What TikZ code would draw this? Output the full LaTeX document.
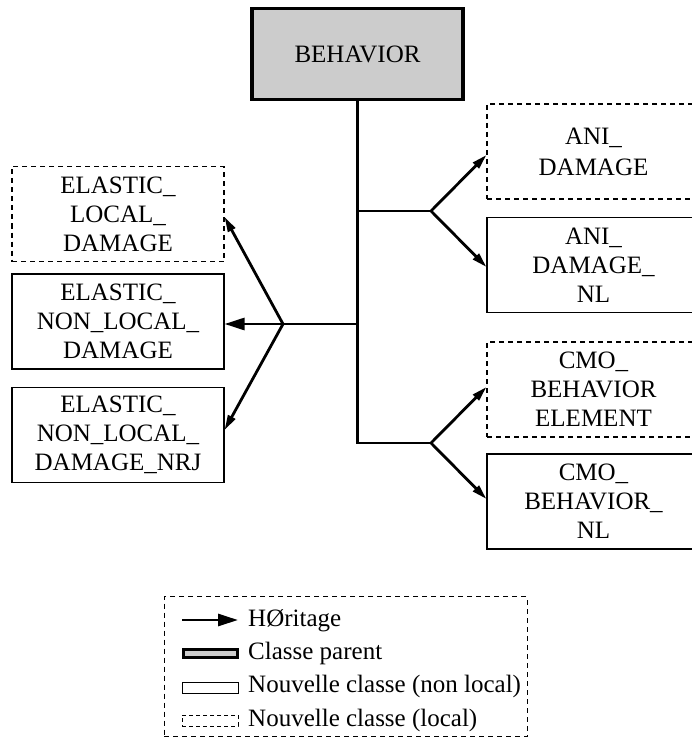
\documentclass[tikz,border=0pt]{standalone}
\usepackage{fontspec}
\setmainfont{Liberation Serif}
\usetikzlibrary{arrows.meta}
\definecolor{parentgray}{gray}{0.8}
\begin{document}
\begin{tikzpicture}[x=1pt,y=-1pt,
  box/.style={draw, line width=1.1pt, minimum width=212pt, minimum height=95pt,
    align=center, inner sep=0pt, font=\fontsize{25}{29}\selectfont},
  localbox/.style={box, dash pattern=on 5pt off 4pt},
  conn/.style={line width=2.8pt, line join=miter},
  inh/.style={conn, -{Triangle[length=15pt,width=8pt]}},
  inhbig/.style={conn, -{Triangle[length=20pt,width=12pt]}},
  legtext/.style={anchor=base west, inner sep=0pt, font=\fontsize{25}{30}\selectfont},
]
\useasboundingbox (0,0) rectangle (691,738);

% parent class
\node[box, fill=parentgray, line width=3.3pt, minimum width=211pt, minimum height=91pt]
  (behavior) at (357.5,54) {BEHAVIOR};

% left classes
\node[localbox] (eld) at (118,214) {ELASTIC\_\\LOCAL\_\\DAMAGE};
\node[box] (enl) at (118,321.5) {ELASTIC\_\\NON\_LOCAL\_\\DAMAGE};
\node[box] (enr) at (118,435) {ELASTIC\_\\NON\_LOCAL\_\\DAMAGE\_NRJ};

% right classes
\node[localbox, minimum width=213pt, font=\fontsize{25}{31}\selectfont] (ani) at (593.5,151.5) {ANI\_\\DAMAGE};
\node[box, minimum width=213pt] (aninl) at (593.5,265) {ANI\_\\DAMAGE\_\\NL};
\node[localbox, minimum width=213pt] (cmoel) at (593.5,389.5) {CMO\_\\BEHAVIOR\\ELEMENT};
\node[box, minimum width=213pt] (cmonl) at (593.5,501.5) {CMO\_\\BEHAVIOR\_\\NL};

% junctions
\coordinate (jR1) at (431,211);
\coordinate (jR2) at (431,443);
\coordinate (jL) at (283,324);

% trunk and branches
\draw[conn] (behavior.south) |- (jR2);
\draw[conn] (behavior.south |- jR1) -- (jR1);
\draw[conn] (behavior.south |- jL) -- (jL);

% inheritance arrows
\draw[inh] (jR1) -- ([yshift=-3.5pt]ani.west);
\draw[inh] (jR1) -- ([yshift=-2pt]aninl.west);
\draw[inh] (jR2) -- ([yshift=2.5pt]cmoel.west);
\draw[inh] (jR2) -- ([yshift=2.5pt]cmonl.west);
\draw[inh] (jL) -- ([yshift=-3pt]eld.east);
\draw[inhbig] (jL) -- ([yshift=-2.5pt]enl.east);
\draw[inh] (jL) -- ([yshift=5pt]enr.east);

% legend
\node[draw, dash pattern=on 5pt off 4pt, line width=1pt, minimum width=363pt,
  minimum height=140pt, inner sep=0pt] (legend) at (345.5,666.5) {};
\coordinate (la0) at (182,620);
\coordinate (la1) at (238,620);
\draw[inhbig] (la0) -- (la1);
\node[draw, fill=parentgray, line width=3pt, minimum width=54pt, minimum height=8pt,
  inner sep=0pt] (lp) at (210.5,653.5) {};
\node[draw, line width=1pt, minimum width=56pt, minimum height=11pt,
  inner sep=0pt] (ln) at (210,687.5) {};
\node[draw, line width=1pt, dash pattern=on 4pt off 3pt, minimum width=56pt,
  minimum height=11pt, inner sep=0pt] (ll) at (210,720.5) {};
\node[legtext] (lt1) at (248,626) {HØritage};
\node[legtext] (lt2) at (248,659) {Classe parent};
\node[legtext] (lt3) at (248,692.5) {Nouvelle classe (non local)};
\node[legtext] (lt4) at (248,726) {Nouvelle classe (local)};
\end{tikzpicture}
\end{document}
